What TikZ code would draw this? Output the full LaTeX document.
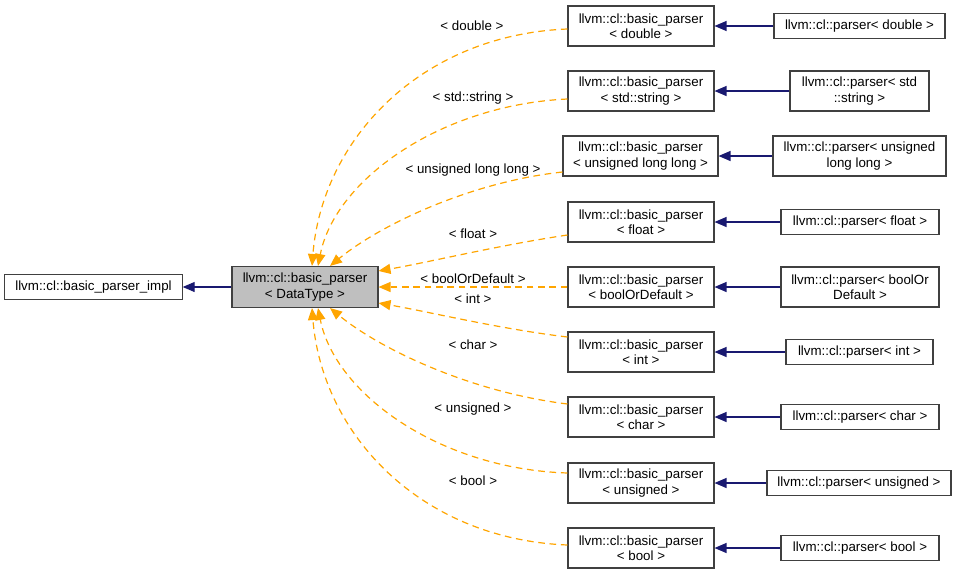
\documentclass[tikz,border=0pt]{standalone}
\usepackage{fontspec}
\setmainfont{Liberation Sans}
\usetikzlibrary{arrows.meta}
\definecolor{edgenavy}{RGB}{25,25,112}
\definecolor{edgeorange}{RGB}{255,165,0}
\definecolor{boxgray}{RGB}{191,191,191}
\tikzset{
  cls/.style={draw=black!75, line width=0.8pt, fill=white, align=center, inner sep=0pt,
    font=\fontsize{10}{11.5}\selectfont},
  lbl/.style={inner sep=0pt, font=\fontsize{10}{11.5}\selectfont},
  inh/.style={draw=edgenavy, line width=0.9pt, -{Triangle[length=9pt,width=7.5pt]}},
  tmpl/.style={draw=edgeorange, line width=0.9pt, dash pattern=on 5pt off 3.5pt,
    -{Triangle[length=9pt,width=7.5pt]}},
}
\begin{document}
\begin{tikzpicture}[x=0.75pt, y=-0.75pt]
\useasboundingbox (0,0) rectangle (957,575);
% left
\node[cls, minimum width=133pt, minimum height=18.75pt] (impl) at (93.5,287) {llvm::cl::basic\_parser\_impl};
\node[cls, fill=boxgray, minimum width=109.5pt, minimum height=30.75pt] (dt) at (305,287) {llvm::cl::basic\_parser\\< DataType >};
% middle
\node[cls, minimum width=109.5pt, minimum height=30pt] (mdouble) at (641,26) {llvm::cl::basic\_parser\\< double >};
\node[cls, minimum width=109.5pt, minimum height=30pt] (mstring) at (641,91) {llvm::cl::basic\_parser\\< std::string >};
\node[cls, minimum width=116.25pt, minimum height=30pt] (mull) at (640.5,156) {llvm::cl::basic\_parser\\< unsigned long long >};
\node[cls, minimum width=109.5pt, minimum height=30pt] (mfloat) at (641,222) {llvm::cl::basic\_parser\\< float >};
\node[cls, minimum width=109.5pt, minimum height=30pt] (mbod) at (641,287) {llvm::cl::basic\_parser\\< boolOrDefault >};
\node[cls, minimum width=109.5pt, minimum height=30pt] (mint) at (641,352) {llvm::cl::basic\_parser\\< int >};
\node[cls, minimum width=109.5pt, minimum height=30pt] (mchar) at (641,417) {llvm::cl::basic\_parser\\< char >};
\node[cls, minimum width=109.5pt, minimum height=30pt] (munsigned) at (641,483) {llvm::cl::basic\_parser\\< unsigned >};
\node[cls, minimum width=109.5pt, minimum height=30pt] (mbool) at (641,548) {llvm::cl::basic\_parser\\< bool >};
% right
\node[cls, minimum width=128.25pt, minimum height=18.75pt] (pdouble) at (859.5,26) {llvm::cl::parser< double >};
\node[cls, minimum width=104.25pt, minimum height=30pt] (pstring) at (859.5,91) {llvm::cl::parser< std\\::string >};
\node[cls, minimum width=129.75pt, minimum height=30pt] (pull) at (859.5,156) {llvm::cl::parser< unsigned\\long long >};
\node[cls, minimum width=118.5pt, minimum height=18.75pt] (pfloat) at (860,222) {llvm::cl::parser< float >};
\node[cls, minimum width=118.5pt, minimum height=30pt] (pbod) at (860,287) {llvm::cl::parser< boolOr\\Default >};
\node[cls, minimum width=110.25pt, minimum height=18.75pt] (pint) at (859.5,352) {llvm::cl::parser< int >};
\node[cls, minimum width=118.5pt, minimum height=18.75pt] (pchar) at (860,417) {llvm::cl::parser< char >};
\node[cls, minimum width=138pt, minimum height=18.75pt] (punsigned) at (859,483) {llvm::cl::parser< unsigned >};
\node[cls, minimum width=118.5pt, minimum height=18.75pt] (pbool) at (860,548) {llvm::cl::parser< bool >};
% inheritance edges
\draw[inh] (dt) -- (impl);
\draw[inh] (pdouble) -- (mdouble);
\draw[inh] (pstring) -- (mstring);
\draw[inh] (pull) -- (mull);
\draw[inh] (pfloat) -- (mfloat);
\draw[inh] (pbod) -- (mbod);
\draw[inh] (pint) -- (mint);
\draw[inh] (pchar) -- (mchar);
\draw[inh] (punsigned) -- (munsigned);
\draw[inh] (pbool) -- (mbool);
% template edges
\draw[tmpl] ([yshift=-2.25pt]mdouble.west) .. controls (420,35) and (322,140) .. ([xshift=5.25pt]dt.north);
\draw[tmpl] ([yshift=-6pt]mstring.west) .. controls (440,105) and (335,180) .. ([xshift=9.75pt]dt.north);
\draw[tmpl] ([yshift=-12pt]mull.west) .. controls (470,182) and (380,225) .. ([xshift=18.75pt]dt.north);
\draw[tmpl] ([yshift=-9.75pt]mfloat.west) .. controls (500,245) and (430,262) .. ([yshift=-3.75pt]dt.north east);
\draw[tmpl] (mbod.west) -- (dt.east);
\draw[tmpl] ([yshift=11.25pt]mint.west) .. controls (500,329) and (430,312) .. ([yshift=3.75pt]dt.south east);
\draw[tmpl] ([yshift=9.75pt]mchar.west) .. controls (470,392) and (380,349) .. ([xshift=18.75pt]dt.south);
\draw[tmpl] ([yshift=7.5pt]munsigned.west) .. controls (440,469) and (335,394) .. ([xshift=9.75pt]dt.south);
\draw[tmpl] ([yshift=2.25pt]mbool.west) .. controls (420,539) and (322,434) .. ([xshift=5.25pt]dt.south);
% labels
\node[lbl] (ldouble) at (472,26) {< double >};
\node[lbl] (lstring) at (473,98) {< std::string >};
\node[lbl] (lull) at (473,170) {< unsigned long long >};
\node[lbl] (lfloat) at (473,234) {< float >};
\node[lbl] (lbod) at (473,279) {< boolOrDefault >};
\node[lbl] (lint) at (473,299) {< int >};
\node[lbl] (lchar) at (473,345) {< char >};
\node[lbl] (lunsigned) at (473,409) {< unsigned >};
\node[lbl] (lbool) at (473,481) {< bool >};
\end{tikzpicture}
\end{document}
